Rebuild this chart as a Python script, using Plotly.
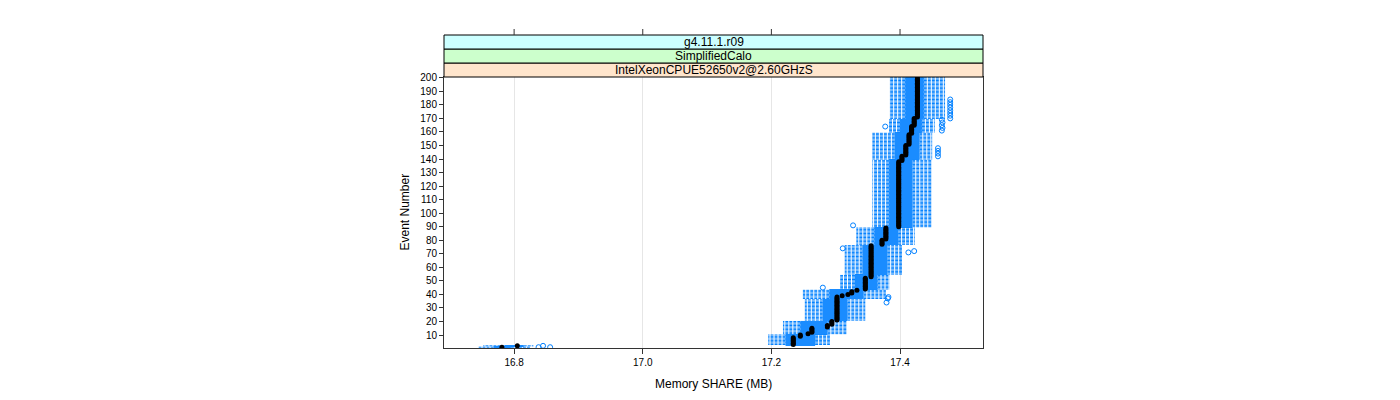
import plotly.graph_objects as go

# ---- data ----
events = list(range(1, 201))

# box-statistic blocks: first event, last event, lower whisker, Q1, Q3, upper whisker (MB)
blk_first = [1, 2, 3, 11, 21, 37, 44, 55, 77, 90, 140, 160, 170]
blk_last = [1, 2, 10, 20, 36, 43, 54, 76, 89, 139, 159, 169, 200]
blk_lo = [16.745, 16.752, 17.195, 17.218, 17.252, 17.249, 17.307, 17.314, 17.332, 17.357, 17.357, 17.383, 17.383]
blk_q1 = [16.768, 16.785, 17.222, 17.245, 17.280, 17.290, 17.330, 17.342, 17.360, 17.383, 17.392, 17.400, 17.408]
blk_q3 = [16.795, 16.815, 17.268, 17.287, 17.318, 17.343, 17.365, 17.380, 17.397, 17.419, 17.430, 17.434, 17.437]
blk_hi = [16.825, 16.830, 17.291, 17.318, 17.346, 17.378, 17.384, 17.403, 17.423, 17.449, 17.450, 17.454, 17.470]

# medians: first event, last event, value (MB)
med_first = [1, 2, 3, 9, 11, 12, 16, 18, 21, 39, 40, 41, 43, 44, 53, 77, 81, 90, 139, 143, 151, 159, 165, 171]
med_last = [1, 2, 8, 10, 11, 15, 17, 20, 38, 39, 40, 42, 43, 52, 76, 80, 89, 138, 142, 150, 158, 164, 170, 200]
med_val = [16.781, 16.805, 17.234, 17.245, 17.257, 17.263, 17.287, 17.294, 17.302, 17.310, 17.319, 17.325,
           17.333, 17.346, 17.355, 17.372, 17.378, 17.398, 17.403, 17.409, 17.414, 17.418, 17.422, 17.427]

# outliers
out_event = [1, 1, 2, 34, 37, 38, 45, 71, 72, 74, 91, 142, 144, 146, 148, 161, 163, 165, 167, 169, 164,
             170, 172, 174, 176, 178, 180, 182, 184]
out_value = [16.838, 16.856, 16.845, 17.379, 17.381, 17.382, 17.280, 17.413, 17.422, 17.311, 17.327,
             17.459, 17.459, 17.459, 17.459, 17.465, 17.466, 17.465, 17.466, 17.465, 17.377,
             17.478, 17.478, 17.478, 17.478, 17.478, 17.478, 17.478, 17.478]

x_ticks = [16.8, 17.0, 17.2, 17.4]
x_ticktext = ["16.8", "17.0", "17.2", "17.4"]
y_ticks = [10, 20, 30, 40, 50, 60, 70, 80, 90, 100, 110, 120, 130, 140, 150, 160, 170, 180, 190, 200]

strip_labels = ["IntelXeonCPUE52650v2@2.60GHzS", "SimplifiedCalo", "g4.11.1.r09"]
strip_colors = ["#ffe5cc", "#ccffcc", "#ccffff"]


def expand(first, last, vals):
    d = {}
    for f, l, v in zip(first, last, vals):
        for e in range(f, l + 1):
            d[e] = v
    return [d[e] for e in events]


lo = expand(blk_first, blk_last, blk_lo)
q1 = expand(blk_first, blk_last, blk_q1)
q3 = expand(blk_first, blk_last, blk_q3)
hi = expand(blk_first, blk_last, blk_hi)
med = expand(med_first, med_last, med_val)

BLUE = "#0080ff"
FONT = "Liberation Sans, Arial, sans-serif"

# whiskers (dashed, drawn outward from the box edges)
wx, wy = [], []
for e, a, b, c, d in zip(events, lo, q1, q3, hi):
    wx += [b, a, None, c, d, None]
    wy += [e, e, None, e, e, None]

fig = go.Figure()
fig.add_trace(go.Scatter(x=wx, y=wy, mode="lines",
                         line=dict(color=BLUE, width=1, dash="3px,1px"),
                         hoverinfo="skip"))
fig.add_trace(go.Bar(orientation="h", y=events,
                     x=[b - a for a, b in zip(q1, q3)], base=q1,
                     width=0.8, marker=dict(color="#1a8cff", line=dict(width=0)),
                     hoverinfo="skip"))
fig.add_trace(go.Scatter(x=out_value, y=out_event, mode="markers",
                         marker=dict(symbol="circle-open", color=BLUE, size=5,
                                     line=dict(width=1, color=BLUE)),
                         hoverinfo="skip"))
fig.add_trace(go.Scatter(x=med, y=events, mode="markers",
                         marker=dict(color="black", size=5, line=dict(width=0)),
                         hoverinfo="skip"))

PH = 271.0  # panel height in px
PW = 539.0
shapes = []
for i, col in enumerate(strip_colors):
    shapes.append(dict(type="rect", xref="paper", yref="paper", x0=0, x1=1,
                       y0=1 + (14 * i) / PH, y1=1 + (14 * (i + 1)) / PH,
                       fillcolor=col, line=dict(color="#000000", width=1), layer="above"))
for t in x_ticks:
    shapes.append(dict(type="line", xref="x", yref="paper", x0=t, x1=t,
                       y0=1 + 42 / PH, y1=1 + 48 / PH,
                       line=dict(color="#333333", width=1)))

annotations = []
for i, lab in enumerate(strip_labels):
    annotations.append(dict(text=lab, xref="paper", yref="paper", x=0.5,
                            y=1 + (14 * i + 7) / PH, showarrow=False,
                            xanchor="center", yanchor="middle",
                            font=dict(family=FONT, size=12, color="black")))
annotations.append(dict(text="Memory SHARE (MB)", xref="paper", yref="paper", x=0.5,
                        y=-36 / PH, showarrow=False, xanchor="center", yanchor="middle",
                        font=dict(family=FONT, size=12, color="black")))
annotations.append(dict(text="Event Number", xref="paper", yref="paper", x=-40 / PW,
                        y=0.5, showarrow=False, xanchor="center", yanchor="middle",
                        textangle=-90, font=dict(family=FONT, size=12, color="black")))

# the page body adds an 8px offset, so the figure is 8px smaller and margins shifted
fig.update_layout(
    width=1392, height=392,
    margin=dict(l=436, r=417, t=69, b=52, pad=0),
    paper_bgcolor="white", plot_bgcolor="white",
    showlegend=False, hovermode=False, barmode="overlay",
    font=dict(family=FONT, size=10, color="black"),
    shapes=shapes, annotations=annotations,
    xaxis=dict(range=[16.691, 17.529], tickvals=x_ticks, ticktext=x_ticktext,
               ticks="outside", ticklen=5, tickcolor="#333333",
               showgrid=True, gridcolor="#e6e6e6", gridwidth=1,
               showline=True, linecolor="#333333", linewidth=1, mirror=True,
               zeroline=False, tickfont=dict(family=FONT, size=10)),
    yaxis=dict(range=[0.4, 200.6], tickvals=y_ticks, ticktext=[str(v) for v in y_ticks],
               ticks="outside", ticklen=4, tickcolor="#333333",
               showgrid=False, showline=True, linecolor="#333333", linewidth=1,
               mirror=True, zeroline=False, tickfont=dict(family=FONT, size=10)),
)

fig.write_html("out.html")
